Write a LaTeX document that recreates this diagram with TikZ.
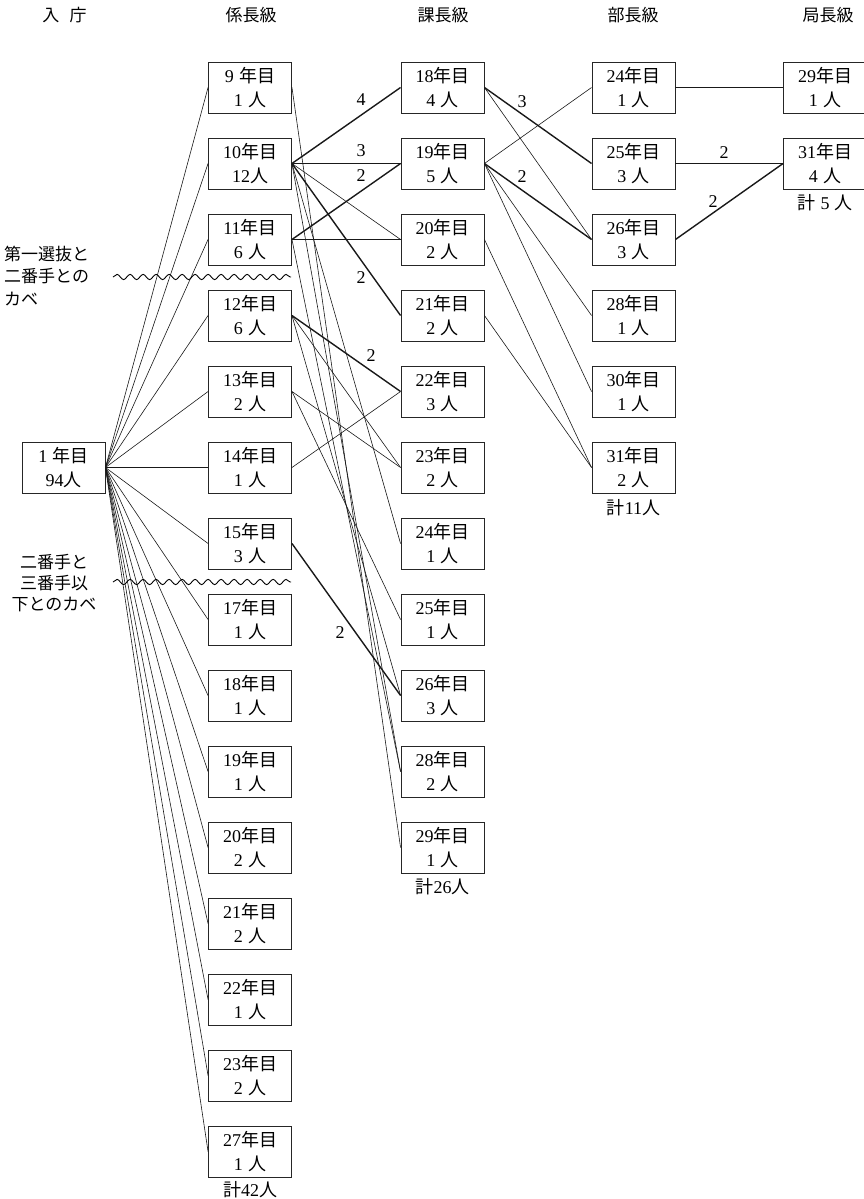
\documentclass[tikz,border=0pt]{standalone}
\usepackage{fontspec}
\setmainfont{Liberation Serif}
\newfontfamily\jp{Noto Sans CJK JP}
\usetikzlibrary{decorations.pathmorphing}
\newcommand{\J}[1]{{\jp #1}}
\newcommand{\hs}{\hspace{0.3em}}
\newcommand{\bx}[5]{\node[box] (#1) at (#2,#3) {#4\J{年目}\\#5\J{人}};}
\begin{document}
\begin{tikzpicture}[x=1pt,y=-1pt,
  box/.style={draw=black!85,line width=0.9pt,minimum width=83pt,minimum height=51pt,inner sep=0pt,align=center,font=\fontsize{18}{23.5}\selectfont},
  ln/.style={line width=0.6pt,black!90},
  lnT/.style={line width=1.4pt,black!90},
  hdr/.style={font=\fontsize{17}{20}\selectfont\jp},
  lbl/.style={font=\fontsize{18}{20}\selectfont,inner sep=0pt},
  sub/.style={font=\fontsize{18}{20}\selectfont,inner sep=0pt},
  wave/.style={line width=0.9pt,decorate,decoration={snake,segment length=13pt,amplitude=2.6pt}}]
\useasboundingbox (0,0) rectangle (864,1199);
% headers
\node[hdr] (h0) at (64.5,15) {入\hspace{0.6em}庁};
\node[hdr] (h1) at (251,15) {係長級};
\node[hdr] (h2) at (443,15) {課長級};
\node[hdr] (h3) at (633,15) {部長級};
\node[hdr] (h4) at (828,15) {局長級};
% entry
\bx{n0}{63.5}{467.5}{1\hs}{94}
% kakaricho
\bx{k9}{250}{87.5}{9\hs}{1\hs}
\bx{k10}{250}{163.5}{10}{12}
\bx{k11}{250}{239.5}{11}{6\hs}
\bx{k12}{250}{315.5}{12}{6\hs}
\bx{k13}{250}{391.5}{13}{2\hs}
\bx{k14}{250}{467.5}{14}{1\hs}
\bx{k15}{250}{543.5}{15}{3\hs}
\bx{k17}{250}{619.5}{17}{1\hs}
\bx{k18}{250}{695.5}{18}{1\hs}
\bx{k19}{250}{771.5}{19}{1\hs}
\bx{k20}{250}{847.5}{20}{2\hs}
\bx{k21}{250}{923.5}{21}{2\hs}
\bx{k22}{250}{999.5}{22}{1\hs}
\bx{k23}{250}{1075.5}{23}{2\hs}
\bx{k27}{250}{1151.5}{27}{1\hs}
\node[sub] (t1) at (250,1190) {\J{計}42\J{人}};
% kacho
\bx{c18}{442.5}{87.5}{18}{4\hs}
\bx{c19}{442.5}{163.5}{19}{5\hs}
\bx{c20}{442.5}{239.5}{20}{2\hs}
\bx{c21}{442.5}{315.5}{21}{2\hs}
\bx{c22}{442.5}{391.5}{22}{3\hs}
\bx{c23}{442.5}{467.5}{23}{2\hs}
\bx{c24}{442.5}{543.5}{24}{1\hs}
\bx{c25}{442.5}{619.5}{25}{1\hs}
\bx{c26}{442.5}{695.5}{26}{3\hs}
\bx{c28}{442.5}{771.5}{28}{2\hs}
\bx{c29}{442.5}{847.5}{29}{1\hs}
\node[sub] (t2) at (442.5,887) {\J{計}26\J{人}};
% bucho
\bx{b24}{633.5}{87.5}{24}{1\hs}
\bx{b25}{633.5}{163.5}{25}{3\hs}
\bx{b26}{633.5}{239.5}{26}{3\hs}
\bx{b28}{633.5}{315.5}{28}{1\hs}
\bx{b30}{633.5}{391.5}{30}{1\hs}
\bx{b31}{633.5}{467.5}{31}{2\hs}
\node[sub] (t3) at (633.5,508) {\J{計}11\J{人}};
% kyokucho
\bx{l29}{825}{87.5}{29}{1\hs}
\bx{l31}{825}{163.5}{31}{4\hs}
\node[sub] (t4) at (825,203) {\J{計}\hs5\hs\J{人}};
% entry lines
\foreach \k in {k9,k10,k11,k12,k13,k14,k15,k17,k18,k19,k20,k21,k22,k23,k27}
  \draw[ln] (n0.east) -- (\k.west);
% kakaricho -> kacho
\draw[ln] (k9.east) -- (c29.west);
\draw[lnT] (k10.east) -- (c18.west);
\draw[lnT] (k10.east) -- (c19.west);
\draw[ln] (k10.east) -- (c20.west);
\draw[lnT] (k10.east) -- (c21.west);
\draw[ln] (k10.east) -- (c24.west);
\draw[ln] (k10.east) -- (c28.west);
\draw[lnT] (k11.east) -- (c19.west);
\draw[ln] (k11.east) -- (c20.west);
\draw[ln] (k11.east) -- (c28.west);
\draw[lnT] (k12.east) -- (c22.west);
\draw[ln] (k12.east) -- (c23.west);
\draw[ln] (k12.east) -- (c26.west);
\draw[ln] (k13.east) -- (c23.west);
\draw[ln] (k13.east) -- (c25.west);
\draw[ln] (k14.east) -- (c22.west);
\draw[lnT] (k15.east) -- (c26.west);
% kacho -> bucho
\draw[lnT] (c18.east) -- (b25.west);
\draw[ln] (c18.east) -- (b26.west);
\draw[ln] (c19.east) -- (b24.west);
\draw[lnT] (c19.east) -- (b26.west);
\draw[ln] (c19.east) -- (b28.west);
\draw[ln] (c19.east) -- (b30.west);
\draw[ln] (c20.east) -- (b31.west);
\draw[ln] (c21.east) -- (b31.west);
% bucho -> kyokucho
\draw[ln] (b24.east) -- (l29.west);
\draw[lnT] (b25.east) -- (l31.west);
\draw[lnT] (b26.east) -- (l31.west);
% edge numbers
\node[lbl] (e1) at (361,100) {4};
\node[lbl] (e2) at (361,151) {3};
\node[lbl] (e3) at (361,176) {2};
\node[lbl] (e4) at (361,278) {2};
\node[lbl] (e5) at (371,356) {2};
\node[lbl] (e6) at (340,633) {2};
\node[lbl] (e7) at (522,102) {3};
\node[lbl] (e8) at (522,177) {2};
\node[lbl] (e9) at (724,153) {2};
\node[lbl] (e10) at (713,202) {2};
% walls
\coordinate (w1a) at (113,277);
\coordinate (w1b) at (291,277);
\coordinate (w2a) at (113,582);
\coordinate (w2b) at (291,582);
\draw[wave] (w1a) -- (w1b);
\draw[wave] (w2a) -- (w2b);
\node[font=\fontsize{17}{22.5}\selectfont\jp,align=left,anchor=west,inner sep=0pt] (lab1) at (4,276) {第一選抜と\\二番手との\\カベ};
\node[font=\fontsize{17}{21}\selectfont\jp,align=center,inner sep=0pt] (lab2) at (54,583) {二番手と\\三番手以\\下とのカベ};
\end{tikzpicture}
\end{document}
